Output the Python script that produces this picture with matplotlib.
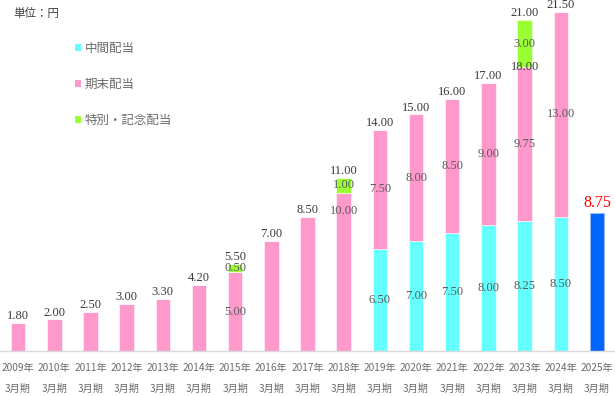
import matplotlib
matplotlib.use("Agg")
import matplotlib.pyplot as plt
from matplotlib.patches import Patch

plt.rcParams['font.family'] = ['Noto Sans CJK JP', 'DejaVu Sans']

years = [str(y) for y in range(2009, 2026)]
interim = [0, 0, 0, 0, 0, 0, 0, 0, 0, 0, 6.5, 7.0, 7.5, 8.0, 8.25, 8.5, 0]
year_end = [1.8, 2.0, 2.5, 3.0, 3.3, 4.2, 5.0, 7.0, 8.5, 10.0, 7.5, 8.0, 8.5, 9.0, 9.75, 13.0, 0]
special = [0, 0, 0, 0, 0, 0, 0.5, 0, 0, 1.0, 0, 0, 0, 0, 3.0, 0, 0]
forecast = [0] * 16 + [8.75]

legend_labels = ['中間配当', '期末配当', '特別・記念配当']
unit_label = '単位：円'

C_INT = '#66FFFF'
C_END = '#FF99CC'
C_SPE = '#99FF33'
C_FC = '#0066FF'
TOT_COL = '#3a3a3a'
SEG_COL = '#595959'
NUM_FONT = 'Liberation Serif'
NUM_SIZE = 9

fig = plt.figure(figsize=(6.15, 3.96), dpi=100)
ax = fig.add_axes([0, 45 / 396, 1, 1 - 45 / 396])

x = list(range(len(years)))
w = 0.4
ax.bar(x, interim, w, color=C_INT, edgecolor='white', linewidth=0.4)
bottom2 = interim
ax.bar(x, year_end, w, bottom=bottom2, color=C_END, edgecolor='white', linewidth=0.4)
bottom3 = [a + b for a, b in zip(interim, year_end)]
ax.bar(x, special, w, bottom=bottom3, color=C_SPE, edgecolor='white', linewidth=0.4)
ax.bar(x, forecast, w, color=C_FC, edgecolor='#99BBFF', linewidth=0.6)

ax.set_xlim(-0.5, len(years) - 0.5)
ax.set_ylim(0, 22.26)

# value labels
nudge = {9: 3.9}
for i in x:
    it, ye, sp, fc = interim[i], year_end[i], special[i], forecast[i]
    total = it + ye + sp
    if fc > 0:
        ax.text(i, fc + 0.1, f"{fc:.2f}", ha='center', va='bottom',
                color='#FF0000', fontsize=11.5, family=NUM_FONT)
        continue
    multi = sum(1 for v in (it, ye, sp) if v > 0) > 1
    ax.text(i, total + 0.05, f"{total:.2f}", ha='center', va='bottom',
            color=TOT_COL, fontsize=NUM_SIZE, family=NUM_FONT)
    if multi:
        if it > 0:
            ax.text(i, it / 2, f"{it:.2f}", ha='center', va='center',
                    color=SEG_COL, fontsize=NUM_SIZE, family=NUM_FONT)
        if ye > 0:
            ax.text(i, it + ye / 2 + nudge.get(i, 0), f"{ye:.2f}", ha='center', va='center',
                    color=SEG_COL, fontsize=NUM_SIZE, family=NUM_FONT)
        if sp > 0:
            ax.text(i, it + ye + sp / 2, f"{sp:.2f}", ha='center', va='center',
                    color=SEG_COL, fontsize=NUM_SIZE, family=NUM_FONT)
            if it > 0:
                ax.text(i, it + ye, f"{it + ye:.2f}", ha='center', va='center',
                        color=TOT_COL, fontsize=NUM_SIZE, family=NUM_FONT)

for s in ['top', 'right', 'left']:
    ax.spines[s].set_visible(False)
ax.spines['bottom'].set_color('#D9D9D9')
ax.spines['bottom'].set_linewidth(1.0)
ax.set_yticks([])
ax.set_xticks(x)
ax.set_xticklabels([f"{y}年\n3月期" for y in years], fontsize=7.3, color='#6b6b6b',
                   linespacing=2.25)
ax.tick_params(axis='x', length=0, pad=9)

fig.text(13 / 615, 1 - 13 / 396, unit_label, fontsize=8.3, color='#404040',
         ha='left', va='center')

handles = [Patch(facecolor=C_INT), Patch(facecolor=C_END), Patch(facecolor=C_SPE)]
fig.legend(handles, legend_labels, loc='upper left',
           bbox_to_anchor=(75 / 615, 1 - 42 / 396), frameon=False,
           fontsize=9, labelcolor='#6b6b6b', handlelength=0.5, handleheight=0.5,
           handletextpad=0.3, labelspacing=1.85, borderpad=0, borderaxespad=0)

fig.savefig('out.png', dpi=100)
